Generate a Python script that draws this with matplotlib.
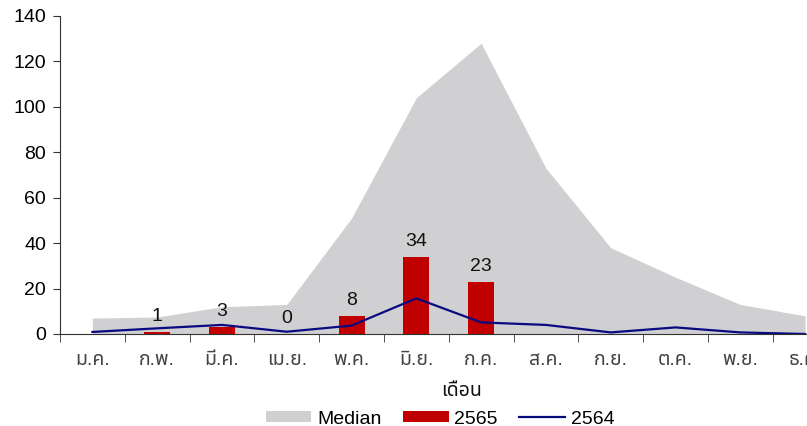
import matplotlib
matplotlib.use("Agg")
import matplotlib.pyplot as plt
from matplotlib import font_manager
from matplotlib.patches import Patch
from matplotlib.lines import Line2D
import numpy as np

months = ["ม.ค.", "ก.พ.", "มี.ค.", "เม.ย.", "พ.ค.", "มิ.ย.", "ก.ค.", "ส.ค.", "ก.ย.", "ต.ค.", "พ.ย.", "ธ.ค."]
median = [7, 7.5, 12, 13, 51, 104, 128, 73, 38, 25, 13, 8]
y2565 = [np.nan, 1, 3, 0, 8, 34, 23, np.nan, np.nan, np.nan, np.nan, np.nan]
y2564 = [0.9, 2.5, 4, 1, 3.7, 15.7, 5.1, 4, 0.7, 2.9, 0.7, 0]
yticks = [0, 20, 40, 60, 80, 100, 120, 140]

# find a font with Thai glyphs
thai_font = None
try:
    from fontTools.ttLib import TTFont
    cands = []
    for f in font_manager.fontManager.ttflist:
        try:
            tt = TTFont(f.fname, fontNumber=0, lazy=True)
            cmap = tt.getBestCmap()
            if cmap and 0x0E14 in cmap and 0x0E01 in cmap:
                cands.append(f.name)
        except Exception:
            pass
    pref = ["Tahoma", "Noto Sans Thai", "Noto Sans Thai UI", "Loma", "Garuda", "Norasi", "Waree"]
    for p in pref:
        if p in cands:
            thai_font = p
            break
    if thai_font is None and cands:
        thai_font = sorted(set(cands))[0]
except Exception:
    pass

fams = ["Liberation Sans"] + ([thai_font] if thai_font else []) + ["DejaVu Sans"]
plt.rcParams["font.family"] = fams

fig = plt.figure(figsize=(8.07, 4.26), dpi=100)
ax = fig.add_axes([60/807, 1-334/426, 1-60/807, (334-16)/426])

x = np.arange(len(months))
ax.fill_between(x, 0, median, color="#D0CFD1", linewidth=0, zorder=1)
bars = ax.bar(x, y2565, width=0.4, color="#C00000", zorder=2)
ax.plot(x, y2564, color="#0A0A80", linewidth=1.6, zorder=3)

for xi, v in zip(x, y2565):
    if not np.isnan(v):
        ax.annotate(f"{int(v)}", (xi, v), xytext=(0, 5), textcoords="offset points",
                    ha="center", va="bottom", fontsize=14, color="#111111")

ax.set_xticks(x)
ax.set_xticklabels(months, fontsize=14, color="#444444")
ax.set_xticks(np.arange(-0.5, 12, 1), minor=True)
ax.set_yticks(yticks)
ax.set_yticklabels([str(t) for t in yticks], fontsize=14)
ax.set_xlim(-0.5, 11.03)
ax.set_ylim(0, 140)
ax.tick_params(axis="x", which="major", length=0, pad=13)
ax.tick_params(axis="x", which="minor", length=6, direction="out", color="#333333")
ax.tick_params(axis="y", length=5, direction="out", color="#333333", pad=5)
for s in ["top", "right"]:
    ax.spines[s].set_visible(False)
ax.spines["left"].set_color("#333333")
ax.spines["bottom"].set_color("#333333")
ax.set_xlabel("เดือน", fontsize=14, fontweight="bold", color="#111111")
ax.xaxis.set_label_coords(0.537, -0.155)

handles = [Patch(facecolor="#D0CFD1", edgecolor="none"),
           Patch(facecolor="#C00000", edgecolor="none"),
           Line2D([0], [0], color="#0A0A80", linewidth=1.6)]
fig.legend(handles, ["Median", "2565", "2564"], loc="center", bbox_to_anchor=(440/807, 1-419/426),
           ncol=3, frameon=False, fontsize=14, handlelength=2.35, handleheight=0.5, columnspacing=1.1,
           handletextpad=0.3)

fig.savefig("out.png", dpi=100)
